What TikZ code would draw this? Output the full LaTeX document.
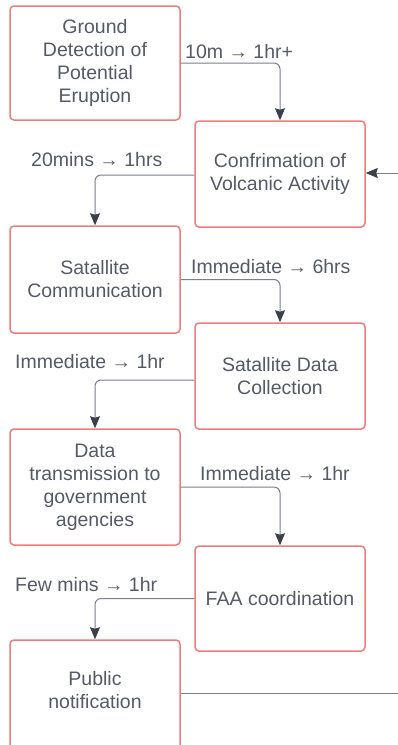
\documentclass[tikz,border=0pt]{standalone}
\usepackage{fontspec}
\setmainfont{Liberation Sans}
\usetikzlibrary{arrows.meta}
\definecolor{boxred}{HTML}{F07B7B}
\definecolor{txtgray}{HTML}{555A64}
\definecolor{linegray}{HTML}{7A7F88}
\definecolor{tipdark}{HTML}{3A3F48}
\begin{document}
\begin{tikzpicture}[x=1pt,y=-1pt,
  every node/.style={font=\fontsize{19.5}{23}\selectfont, text=txtgray},
  stagebox/.style={draw=boxred, line width=1.5pt, rounded corners=4pt,
    minimum width=170pt, inner sep=0pt, align=center},
  timelabel/.style={anchor=base west, inner sep=0pt},
  flow/.style={draw=linegray, line width=1pt, rounded corners=6pt,
    -{Stealth[length=12pt,width=10pt,inset=1.5pt,color=tipdark]}},
  plainflow/.style={draw=linegray, line width=1pt}]
\useasboundingbox[fill=white] (0,0) rectangle (398,745);

% process stages
\node[stagebox, minimum height=114pt] (b1) at (95,63)
  {Ground\\Detection of\\Potential\\Eruption};
\node[stagebox, minimum height=106pt] (b2) at (280,174)
  {Confrimation of\\Volcanic Activity};
\node[stagebox, minimum height=107pt] (b3) at (95,279.5)
  {Satallite\\Communication};
\node[stagebox, minimum height=106pt] (b4) at (280,376)
  {Satallite Data\\Collection};
\node[stagebox, minimum height=116pt] (b5) at (95,487)
  {Data\\transmission to\\government\\agencies};
\node[stagebox, minimum height=105pt] (b6) at (280,598.5)
  {FAA coordination};
\node[stagebox, minimum height=130pt] (b7) at (95,705) {};
\node[align=center, inner sep=0pt] (t7) at (95,690) {Public\\notification};

% time estimates
\node[timelabel] (l1) at (185,58) {10m → 1hr+};
\node[timelabel] (l2) at (31,166) {20mins → 1hrs};
\node[timelabel] (l3) at (191,273) {Immediate → 6hrs};
\node[timelabel] (l4) at (15,368) {Immediate → 1hr};
\node[timelabel] (l5) at (200,480) {Immediate → 1hr};
\node[timelabel] (l6) at (15,591) {Few mins → 1hr};

% loose ends at the right edge
\coordinate (inR) at (400,173);
\coordinate (outR) at (400,693);

% connectors
\draw[flow] (b1.east) -| (b2.north);
\draw[flow] ([yshift=-1pt]b2.west) -| (b3.north);
\draw[flow] (b3.east) -| (b4.north);
\draw[flow] ([yshift=-4pt]b4.west) -| (b5.north);
\draw[flow] (b5.east) -| (b6.north);
\draw[flow] (b6.west) -| (b7.north);
\draw[flow] (inR) -- (inR -| b2.east);
\draw[plainflow] (outR -| b7.east) -- (outR);
\end{tikzpicture}
\end{document}
